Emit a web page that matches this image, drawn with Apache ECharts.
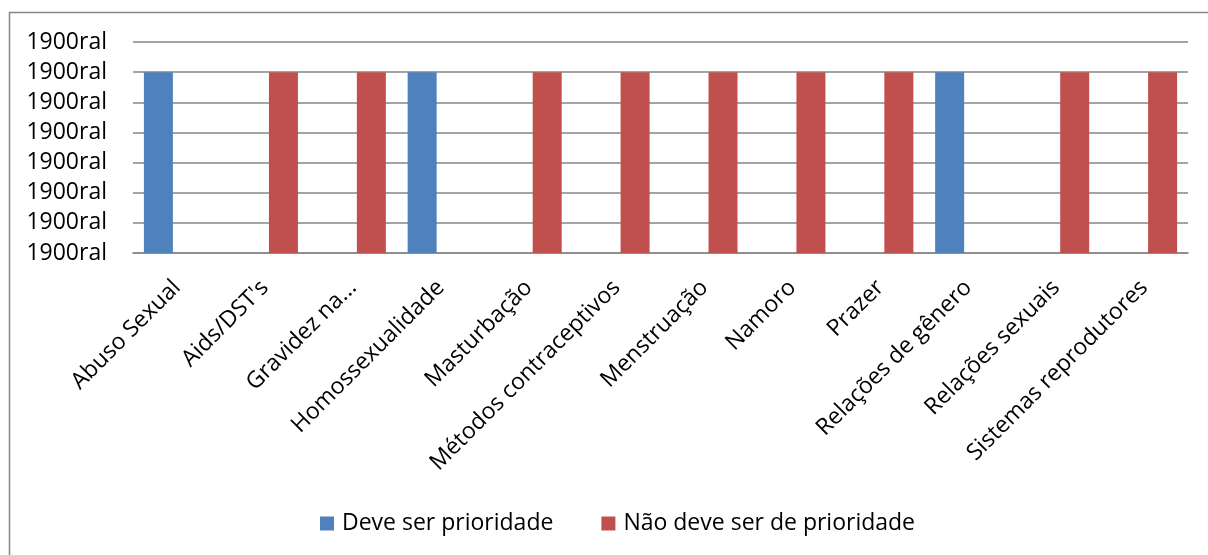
<!DOCTYPE html>
<html>
<head>
<meta charset="utf-8">
<script src="https://cdn.jsdelivr.net/npm/echarts@6/dist/echarts.min.js"></script>
<style>
  html, body { margin: 0; padding: 0; background: #fff; }
  #chart { width: 1208px; height: 555px; }
</style>
</head>
<body>
<div id="chart"></div>
<script>
const categories = ['Abuso Sexual', "Aids/DST's", 'Gravidez na...', 'Homossexualidade', 'Masturbação',
  'Métodos contraceptivos', 'Menstruação', 'Namoro', 'Prazer', 'Relações de gênero',
  'Relações sexuais', 'Sistemas reprodutores']
const seriesNames = ['Deve ser prioridade', 'Não deve ser de prioridade']
const deveValues = [6, 0, 0, 6, 0, 0, 0, 0, 0, 6, 0, 0]
const naoDeveValues = [0, 6, 6, 0, 6, 6, 6, 6, 6, 0, 6, 6]
const yTickLabels = ['1900ral', '1900ral', '1900ral', '1900ral', '1900ral', '1900ral', '1900ral', '1900ral']

const FONT = '"Open Sans", sans-serif'
const chart = echarts.init(document.getElementById('chart'))

chart.setOption({
  animation: false,
  color: ['#4F81BD', '#C0504D'],
  textStyle: { fontFamily: FONT },
  graphic: [{
    type: 'rect',
    shape: { x: 9.5, y: 12.5, width: 1400, height: 700 },
    style: { fill: 'none', stroke: '#868686', lineWidth: 1.5 },
    silent: true
  }],
  grid: { left: 133, right: 20, top: 42, bottom: 302 },
  legend: {
    top: 507,
    left: 315,
    itemWidth: 14,
    itemHeight: 14,
    itemGap: 48,
    icon: 'rect',
    textStyle: { fontSize: 23, color: '#000', fontFamily: FONT, padding: [0, 0, 0, 3] },
    data: seriesNames
  },
  xAxis: {
    type: 'category',
    data: categories,
    axisLine: { lineStyle: { color: '#868686', width: 1.5 } },
    axisTick: { show: false },
    axisLabel: { interval: 0, rotate: 45, margin: 31, fontSize: 23, color: '#000', fontFamily: FONT }
  },
  yAxis: {
    type: 'value',
    min: 0,
    max: 7,
    interval: 1,
    axisLine: { show: false },
    axisTick: { show: false },
    axisLabel: {
      margin: 26, fontSize: 23, color: '#000', fontFamily: FONT,
      formatter: v => yTickLabels[Math.round(v)]
    },
    splitLine: { lineStyle: { color: '#868686', width: 1.5 } }
  },
  series: [
    { name: seriesNames[0], type: 'bar', data: deveValues, barWidth: 29, barGap: '28%' },
    { name: seriesNames[1], type: 'bar', data: naoDeveValues, barWidth: 29, barGap: '28%' }
  ]
})
</script>
</body>
</html>
